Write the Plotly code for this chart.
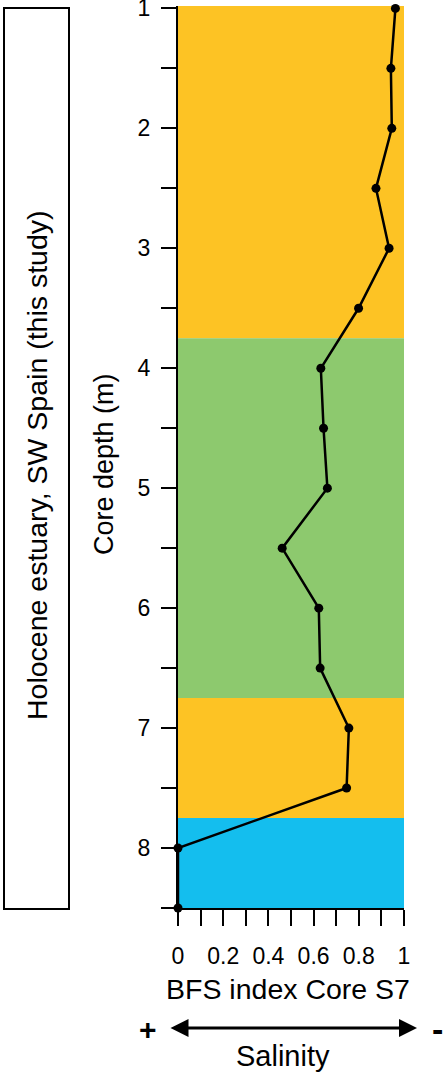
import plotly.graph_objects as go

# ---- data ----
depth = [1.0, 1.5, 2.0, 2.5, 3.0, 3.5, 4.0, 4.5, 5.0, 5.5, 6.0, 6.5, 7.0, 7.5, 8.0, 8.5]
bfs = [0.962, 0.942, 0.946, 0.876, 0.934, 0.799, 0.632, 0.644, 0.661, 0.461, 0.623, 0.629, 0.756, 0.746, 0.0, 0.0]

band_top = [0.98, 3.75, 6.75, 7.75]
band_bottom = [3.75, 6.75, 7.75, 8.5]
band_color = ["#FDC324", "#8DC96E", "#FDC324", "#14BEEE"]

y_tickvals = [1, 1.5, 2, 2.5, 3, 3.5, 4, 4.5, 5, 5.5, 6, 6.5, 7, 7.5, 8, 8.5]
y_ticktext = ["1", "", "2", "", "3", "", "4", "", "5", "", "6", "", "7", "", "8", ""]
x_tickvals = [0, 0.1, 0.2, 0.3, 0.4, 0.5, 0.6, 0.7, 0.8, 0.9, 1.0]
x_ticktext = ["0", "", "0.2", "", "0.4", "", "0.6", "", "0.8", "", "1"]

FONT = "Arial, Liberation Sans, sans-serif"

# ---- layout geometry (pixels) ----
W, H = 446, 1080
ML, MR, MT, MB = 178, 42, 6, 172
PW = W - ML - MR
PH = H - MT - MB


def px2x(px):
    return (px - ML) / PW


def px2y(py):
    return (H - MB - py) / PH


fig = go.Figure()

fig.add_trace(go.Scatter(
    x=bfs, y=depth, mode="lines+markers",
    line=dict(color="black", width=2.5),
    marker=dict(color="black", size=9),
    cliponaxis=False, showlegend=False, hoverinfo="skip",
))

shapes = []
for t, b, c in zip(band_top, band_bottom, band_color):
    shapes.append(dict(type="rect", xref="paper", yref="y", x0=0, x1=1, y0=t, y1=b,
                       fillcolor=c, line=dict(width=0), layer="below"))
# left framed box
shapes.append(dict(type="rect", xref="paper", yref="paper",
                   x0=px2x(4), x1=px2x(69), y0=px2y(909), y1=px2y(8),
                   line=dict(color="black", width=2), fillcolor="rgba(0,0,0,0)"))

annotations = [
    dict(text="Holocene estuary, SW Spain (this study)", xref="paper", yref="paper",
         x=px2x(37), y=px2y(465), textangle=-90, showarrow=False,
         xanchor="center", yanchor="middle", font=dict(size=28.5, family=FONT, color="black")),
    dict(text="Core depth (m)", xref="paper", yref="paper",
         x=px2x(104), y=px2y(464), textangle=-90, showarrow=False,
         xanchor="center", yanchor="middle", font=dict(size=27, family=FONT, color="black")),
    dict(text="BFS index Core S7", xref="paper", yref="paper",
         x=px2x(288), y=px2y(989), showarrow=False,
         xanchor="center", yanchor="middle", font=dict(size=28.5, family=FONT, color="black")),
    dict(text="Salinity", xref="paper", yref="paper",
         x=px2x(283), y=px2y(1056), showarrow=False,
         xanchor="center", yanchor="middle", font=dict(size=29, family=FONT, color="black")),
    dict(text="<b>+</b>", xref="paper", yref="paper",
         x=px2x(148), y=px2y(1029), showarrow=False,
         xanchor="center", yanchor="middle", font=dict(size=30, family=FONT, color="black")),
    dict(text="<b>-</b>", xref="paper", yref="paper",
         x=px2x(437), y=px2y(1029), showarrow=False,
         xanchor="center", yanchor="middle", font=dict(size=34, family=FONT, color="black")),
    dict(text="", xref="paper", yref="paper",
         x=px2x(417), y=px2y(1028), ax=-(417 - 169), ay=0, axref="pixel", ayref="pixel",
         showarrow=True, arrowside="end+start", arrowhead=2, arrowsize=1.2,
         arrowwidth=3, arrowcolor="black", standoff=0, startstandoff=0),
]

fig.update_layout(
    width=W, height=H,
    margin=dict(l=ML, r=MR, t=MT, b=MB, pad=0, autoexpand=False),
    paper_bgcolor="white", plot_bgcolor="white",
    font=dict(family=FONT, color="black"),
    shapes=shapes, annotations=annotations,
    xaxis=dict(range=[0, 1], tickvals=x_tickvals, ticktext=x_ticktext,
               showline=True, linecolor="black", linewidth=2,
               ticks="outside", ticklen=16, tickwidth=2, tickcolor="black",
               ticklabelstandoff=10, ticklabeloverflow="allow", automargin=False,
               showgrid=False, zeroline=False, tickfont=dict(size=23, family=FONT, color="black"),
               fixedrange=True),
    yaxis=dict(range=[8.5, 0.98], tickvals=y_tickvals, ticktext=y_ticktext,
               showline=True, linecolor="black", linewidth=2,
               ticks="outside", ticklen=15, tickwidth=2, tickcolor="black",
               ticklabelstandoff=6, ticklabeloverflow="allow", automargin=False,
               showgrid=False, zeroline=False, tickfont=dict(size=23, family=FONT, color="black"),
               fixedrange=True),
)

fig.write_html("out.html")
